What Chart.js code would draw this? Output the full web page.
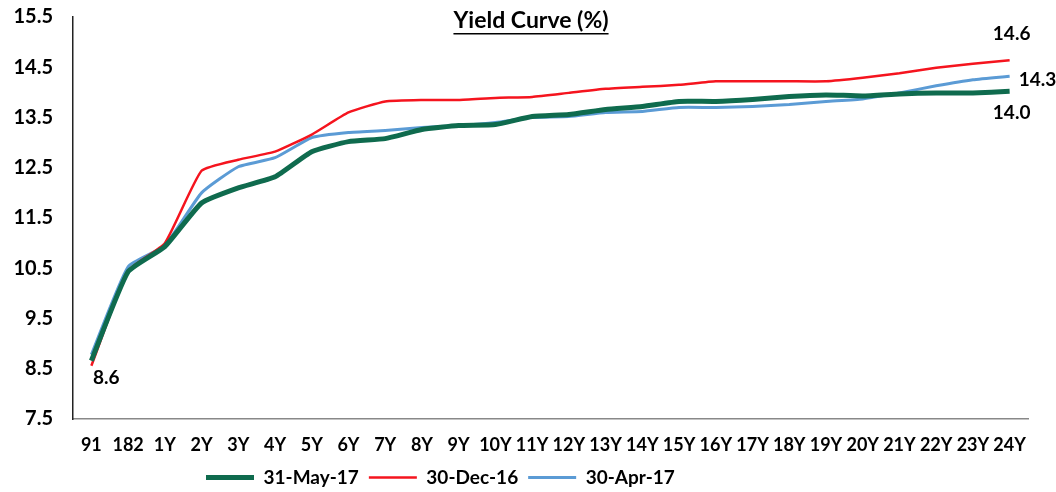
<!DOCTYPE html>
<html>
<head>
<meta charset="utf-8">
<script src="https://cdn.jsdelivr.net/npm/chart.js@4/dist/chart.umd.min.js"></script>
<style>
  html, body { margin: 0; padding: 0; background: #fff; }
  #wrap { width: 1056px; height: 492px; position: relative; }
</style>
</head>
<body>
<div id="wrap"><canvas id="chart"></canvas></div>
<script>
// tenors on the x axis
const tenors = ['91', '182', '1Y', '2Y', '3Y', '4Y', '5Y', '6Y', '7Y', '8Y', '9Y', '10Y', '11Y', '12Y',
  '13Y', '14Y', '15Y', '16Y', '17Y', '18Y', '19Y', '20Y', '21Y', '22Y', '23Y', '24Y'];

// yields (%)
const may17 = [8.66, 10.43, 10.93, 11.80, 12.10, 12.32, 12.82, 13.02, 13.08, 13.26, 13.34, 13.36, 13.52, 13.56,
  13.66, 13.72, 13.82, 13.82, 13.86, 13.92, 13.95, 13.93, 13.97, 13.99, 13.99, 14.02];
const dec16 = [8.56, 10.45, 11.00, 12.44, 12.66, 12.82, 13.16, 13.60, 13.82, 13.85, 13.85, 13.89, 13.91, 13.99,
  14.07, 14.11, 14.15, 14.22, 14.22, 14.22, 14.22, 14.29, 14.38, 14.49, 14.57, 14.64];
const apr17 = [8.78, 10.53, 10.95, 12.00, 12.52, 12.70, 13.10, 13.20, 13.24, 13.30, 13.34, 13.40, 13.50, 13.52,
  13.60, 13.62, 13.70, 13.70, 13.72, 13.76, 13.82, 13.87, 13.99, 14.13, 14.25, 14.32];

const yTicks = [7.5, 8.5, 9.5, 10.5, 11.5, 12.5, 13.5, 14.5, 15.5];

const FONT = 'Lato, "Open Sans", sans-serif';

// title + the few value labels that sit next to the lines
const annotations = {
  id: 'annotations',
  afterLayout(chart) {
    // legend sits left of centre and a bit lower in the original
    chart.legend.left = 196;
    chart.legend.top += 5;
  },
  afterDatasetsDraw(chart) {
    const ctx = chart.ctx;
    ctx.save();
    ctx.fillStyle = '#000';
    ctx.font = 'bold 23px ' + FONT;
    ctx.textAlign = 'center';
    ctx.textBaseline = 'middle';
    const title = 'Yield Curve (%)';
    const cx = 531, cy = 21;
    ctx.fillText(title, cx, cy);
    const tw = ctx.measureText(title).width;
    ctx.fillRect(cx - tw / 2, cy + 12, tw, 1.5);

    ctx.font = 'bold 19px ' + FONT;
    const pt = (di, i) => chart.getDatasetMeta(di).data[i];
    const last = tenors.length - 1;
    let p = pt(1, 0);
    ctx.fillText(dec16[0].toFixed(1), p.x + 15, p.y + 12);
    p = pt(1, last);
    ctx.fillText(dec16[last].toFixed(1), p.x + 2, p.y - 26);
    p = pt(2, last);
    ctx.textAlign = 'left';
    ctx.fillText(apr17[last].toFixed(1), p.x + 9, p.y + 4);
    p = pt(0, last);
    ctx.textAlign = 'center';
    ctx.fillText(may17[last].toFixed(1), p.x + 2, p.y + 22);
    ctx.restore();
  }
};

new Chart(document.getElementById('chart'), {
  type: 'line',
  data: {
    labels: tenors,
    datasets: [
      { label: '31-May-17', data: may17, borderColor: '#0f6b4e', borderWidth: 5 },
      { label: '30-Dec-16', data: dec16, borderColor: '#f5141e', borderWidth: 2.5 },
      { label: '30-Apr-17', data: apr17, borderColor: '#5b9bd5', borderWidth: 3 }
    ]
  },
  options: {
    responsive: true,
    maintainAspectRatio: false,
    animation: false,
    elements: { point: { radius: 0 }, line: { tension: 0.15 } },
    layout: { padding: { left: 0, right: 28, top: 17, bottom: 0 } },
    plugins: {
      legend: {
        position: 'bottom',
        align: 'start',
        labels: {
          usePointStyle: true,
          pointStyle: 'line',
          pointStyleWidth: 48,
          boxHeight: 19,
          padding: 10,
          color: '#000',
          font: { family: FONT, size: 19, weight: 'bold' },
          generateLabels(chart) {
            return chart.data.datasets.map((ds, i) => ({
              text: ds.label,
              strokeStyle: ds.borderColor,
              fillStyle: ds.borderColor,
              lineWidth: ds.borderWidth,
              pointStyle: 'line',
              datasetIndex: i,
              fontColor: '#000'
            }));
          }
        }
      },
      tooltip: { enabled: false }
    },
    scales: {
      x: {
        offset: true,
        afterFit(scale) {
          scale.height = 34;
        },
        grid: { display: false, drawTicks: false },
        border: { color: '#888', width: 1.5 },
        ticks: {
          color: '#000',
          padding: 15,
          maxRotation: 0,
          autoSkip: false,
          font: { family: FONT, size: 18, weight: 'bold' }
        }
      },
      y: {
        min: 7.5,
        max: 15.5,
        afterBuildTicks(scale) {
          scale.ticks = yTicks.map(v => ({ value: v }));
        },
        afterFit(scale) {
          scale.width = 73;
          scale.paddingTop = 0;
          scale.paddingBottom = 0;
        },
        grid: { display: false, drawTicks: false },
        border: { color: '#222', width: 1.5 },
        ticks: {
          color: '#000',
          padding: 20,
          callback: v => v.toFixed(1),
          font: { family: FONT, size: 20, weight: 'bold' }
        }
      }
    }
  },
  plugins: [annotations]
});
</script>
</body>
</html>
